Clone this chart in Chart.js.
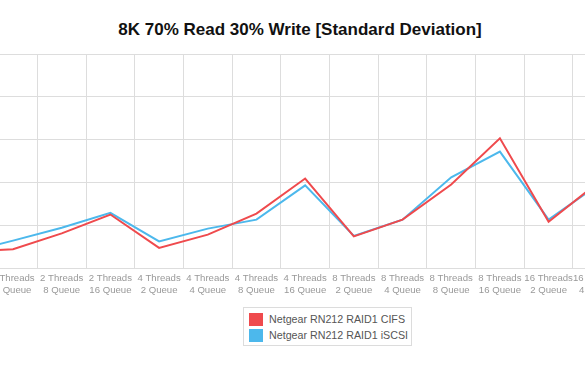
<!DOCTYPE html>
<html>
<head>
<meta charset="utf-8">
<script src="https://cdn.jsdelivr.net/npm/chart.js@4/dist/chart.umd.min.js"></script>
<style>
  body { margin: 0; width: 585px; height: 372px; overflow: hidden; background: #fff; position: relative;
         font-family: "Helvetica Neue", Helvetica, Arial, sans-serif; }
  #title { position: absolute; left: 0; width: 600px; top: 20px; text-align: center;
           font-size: 17px; font-weight: bold; color: #111; line-height: 20px; }
  #wrap { position: absolute; left: -130px; top: 0; width: 855px; height: 300px; }
  #legend { position: absolute; left: 243px; top: 307px; width: 167px; height: 37px;
            border: 1px solid #dcdcdc; padding: 0; box-sizing: content-box; }
  .item { position: absolute; left: 5px; height: 13px; font-size: 10.7px; color: #555; line-height: 13px; white-space: nowrap; }
  .item span { display: inline-block; width: 14px; height: 13px; vertical-align: top; margin-right: 6px; }
</style>
</head>
<body>
<div id="title"></div>
<div id="wrap"><canvas id="chart" width="855" height="300"></canvas></div>
<div id="legend"></div>
<script>
const TITLE = "8K 70% Read 30% Write [Standard Deviation]";

const labels = [
  ["2 Threads", "2 Queue"], ["2 Threads", "4 Queue"], ["2 Threads", "8 Queue"], ["2 Threads", "16 Queue"],
  ["4 Threads", "2 Queue"], ["4 Threads", "4 Queue"], ["4 Threads", "8 Queue"], ["4 Threads", "16 Queue"],
  ["8 Threads", "2 Queue"], ["8 Threads", "4 Queue"], ["8 Threads", "8 Queue"], ["8 Threads", "16 Queue"],
  ["16 Threads", "2 Queue"], ["16 Threads", "4 Queue"], ["16 Threads", "8 Queue"], ["16 Threads", "16 Queue"]
];

const seriesNames = ["Netgear RN212 RAID1 CIFS", "Netgear RN212 RAID1 iSCSI"];
const seriesColors = ["#ef4a4d", "#4cb8ec"];

const cifs = [3.8, 4.4, 8.1, 12.5, 4.7, 7.8, 12.7, 20.9, 7.4, 11.3, 19.5, 30.3, 10.8, 19.8, 24, 33];
const iscsi = [3.5, 6.4, 9.4, 12.9, 6.2, 9.2, 11.3, 19.3, 7.5, 11.3, 21.2, 27.2, 11.3, 19.3, 23, 30];

const yTicks = [0, 10, 20, 30, 40, 50];

document.getElementById("title").innerText = TITLE;

// legend
let legend = document.getElementById("legend");
seriesNames.forEach((name, i) => {
  let d = document.createElement("div");
  d.className = "item";
  d.style.top = (5 + i * 16) + "px";
  d.innerHTML = '<span style="background:' + seriesColors[i] + '"></span>' + name;
  legend.appendChild(d);
});

new Chart(document.getElementById("chart"), {
  type: "line",
  data: {
    labels: labels,
    datasets: [
      { label: seriesNames[0], data: cifs, borderColor: seriesColors[0], borderWidth: 2, pointRadius: 0, tension: 0, fill: false },
      { label: seriesNames[1], data: iscsi, borderColor: seriesColors[1], borderWidth: 2, pointRadius: 0, tension: 0, fill: false }
    ]
  },
  options: {
    responsive: false,
    animation: false,
    maintainAspectRatio: false,
    layout: { padding: { top: 54, right: 6, left: 0, bottom: 0 } },
    plugins: { legend: { display: false }, title: { display: false }, tooltip: { enabled: false } },
    scales: {
      x: {
        offset: true,
        grid: { offset: true, color: "#dddddd", drawTicks: false },
        border: { display: false },
        ticks: { color: "#999999", font: { size: 9.6, family: "'Helvetica Neue', Helvetica, Arial, sans-serif", lineHeight: 1.25 }, padding: 4, maxRotation: 0, autoSkip: false },
        afterFit: (s) => { s.height = 32; }
      },
      y: {
        min: yTicks[0],
        max: yTicks[yTicks.length - 1],
        afterBuildTicks: (s) => { s.ticks = yTicks.map((v) => ({ value: v })); },
        grid: { color: "#dddddd", drawTicks: false },
        border: { display: false },
        ticks: { color: "#999999", font: { size: 10 } },
        afterFit: (s) => { s.width = 70; }
      }
    }
  }
});
</script>
</body>
</html>
